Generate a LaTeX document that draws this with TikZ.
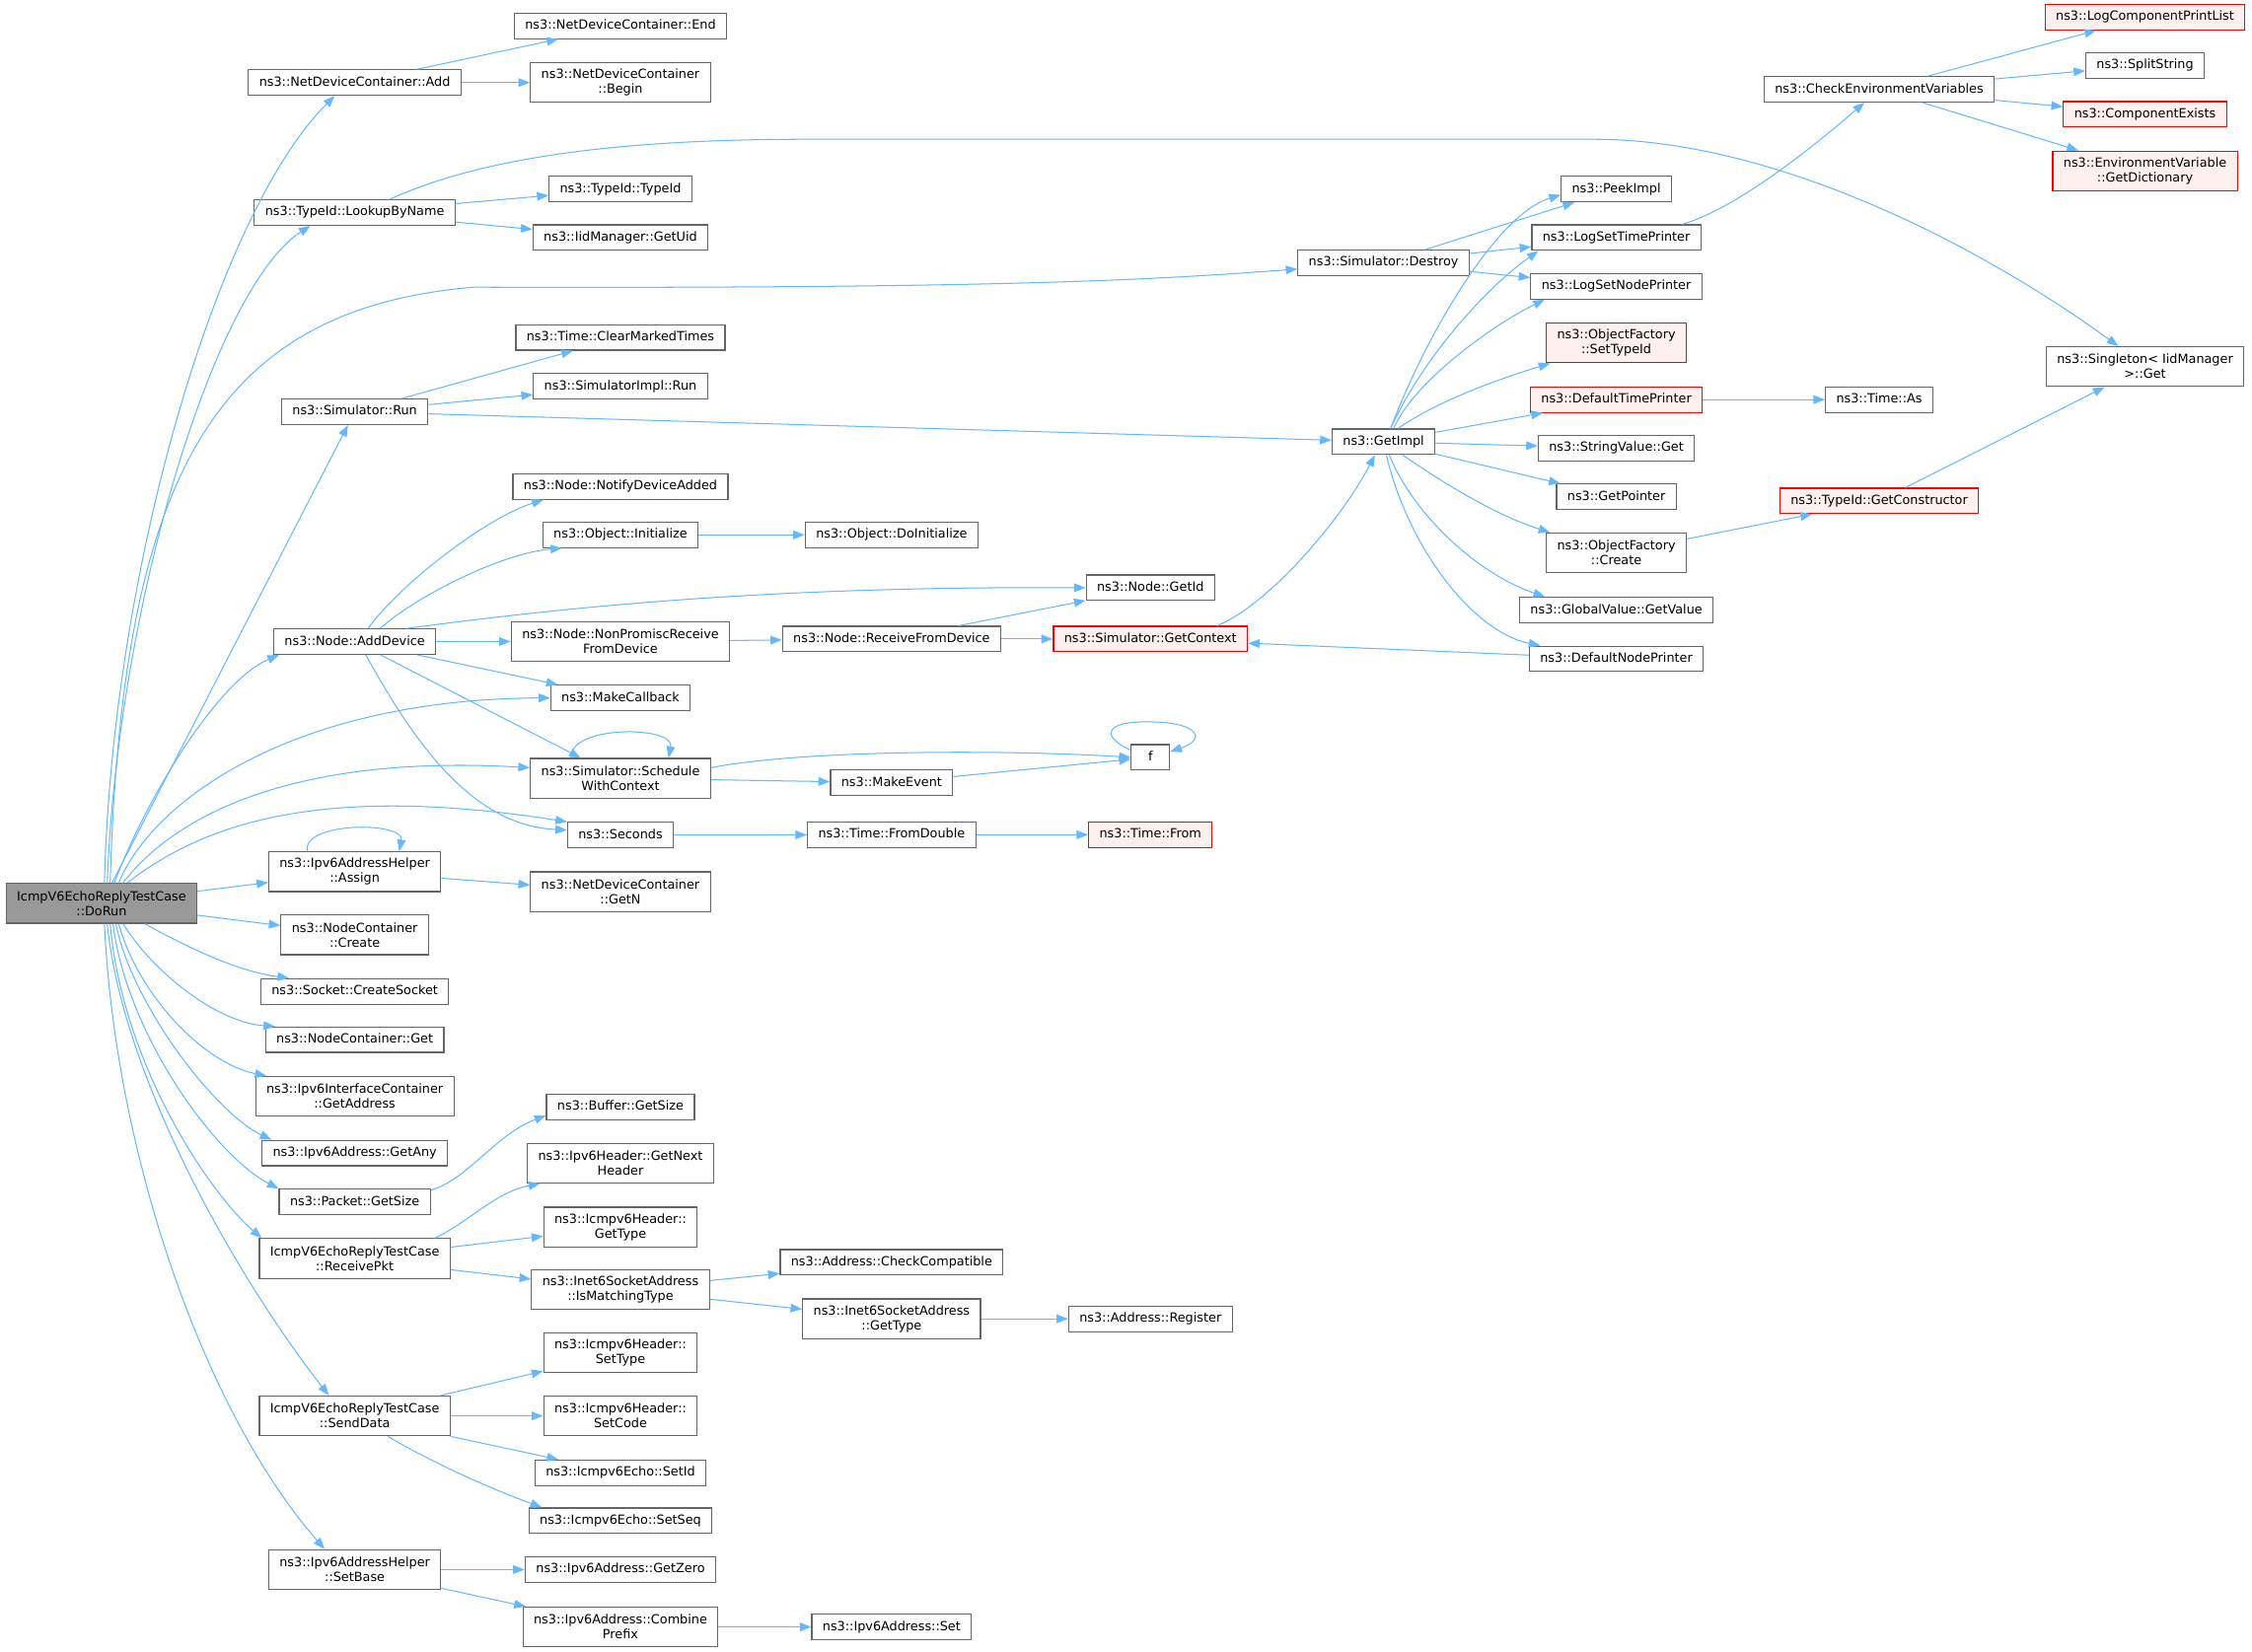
\documentclass[tikz,border=0pt]{standalone}
\usepackage{fontspec}
\setmainfont{DejaVu Sans}
\usetikzlibrary{arrows.meta}
\definecolor{eblue}{HTML}{63B8FF}
\definecolor{bgray}{HTML}{666666}
\definecolor{rfill}{HTML}{FFF0F0}
\definecolor{rootfill}{HTML}{999999}
\begin{document}
\begin{tikzpicture}[x=1pt,y=-1pt,
  fnbase/.style={draw=bgray, line width=0.8pt, fill=white, font=\fontsize{8.8}{10.3}\selectfont, inner xsep=7.5pt, inner ysep=0pt, align=center},
  fn/.style={fnbase, minimum height=17.7pt, text height=6.9pt, text depth=2.1pt},
  fn2/.style={fnbase, minimum height=27.7pt},
  rednode/.style={draw=red, fill=rfill},
  rootnode/.style={fill=rootfill},
  conn/.style={draw=eblue, line width=0.7pt, -{Triangle[length=8pt,width=6pt]}}]
\path[fill=white,use as bounding box] (0,0) rectangle (1568,1150);

% column 1
\node[fn2,rootnode] (root) at (70.7,629) {IcmpV6EchoReplyTestCase\\::DoRun};
% column 2
\node[fn] (add) at (247,57.5) {ns3::NetDeviceContainer::Add};
\node[fn] (lookup) at (247,148) {ns3::TypeId::LookupByName};
\node[fn] (run) at (247,286.7) {ns3::Simulator::Run};
\node[fn] (adddev) at (247,446.8) {ns3::Node::AddDevice};
\node[fn2] (assign) at (247,607) {ns3::Ipv6AddressHelper\\::Assign};
\node[fn2] (nccreate) at (247,651) {ns3::NodeContainer\\::Create};
\node[fn] (createsock) at (247,690.4) {ns3::Socket::CreateSocket};
\node[fn] (ncget) at (247,724) {ns3::NodeContainer::Get};
\node[fn2] (getaddr) at (247,763.5) {ns3::Ipv6InterfaceContainer\\::GetAddress};
\node[fn] (getany) at (247,803) {ns3::Ipv6Address::GetAny};
\node[fn] (pktsize) at (247,837) {ns3::Packet::GetSize};
\node[fn2] (rpkt) at (247,876.4) {IcmpV6EchoReplyTestCase\\::ReceivePkt};
\node[fn2] (senddata) at (247,986) {IcmpV6EchoReplyTestCase\\::SendData};
\node[fn2] (setbase) at (247,1093) {ns3::Ipv6AddressHelper\\::SetBase};
% column 3
\node[fn] (ndcend) at (432,18) {ns3::NetDeviceContainer::End};
\node[fn2] (ndcbegin) at (432,57.5) {ns3::NetDeviceContainer\\::Begin};
\node[fn] (typeid) at (432,131.7) {ns3::TypeId::TypeId};
\node[fn] (getuid) at (432,165.5) {ns3::IidManager::GetUid};
\node[fn] (cmt) at (432,235) {ns3::Time::ClearMarkedTimes};
\node[fn] (sirun) at (432,269) {ns3::SimulatorImpl::Run};
\node[fn] (nda) at (432,338.8) {ns3::Node::NotifyDeviceAdded};
\node[fn] (oinit) at (432,372.5) {ns3::Object::Initialize};
\node[fn2] (npr) at (432,446.7) {ns3::Node::NonPromiscReceive\\FromDevice};
\node[fn] (mkcb) at (432,486) {ns3::MakeCallback};
\node[fn2] (swc) at (432,542) {ns3::Simulator::Schedule\\WithContext};
\node[fn] (secs) at (432,581.5) {ns3::Seconds};
\node[fn2] (getn) at (432,621) {ns3::NetDeviceContainer\\::GetN};
\node[fn] (bufsize) at (432,770.8) {ns3::Buffer::GetSize};
\node[fn2] (nexthdr) at (432,810) {ns3::Ipv6Header::GetNext\\Header};
\node[fn2] (gettype) at (432,854.5) {ns3::Icmpv6Header::\\GetType};
\node[fn2] (imt) at (432,898) {ns3::Inet6SocketAddress\\::IsMatchingType};
\node[fn2] (settype) at (432,942) {ns3::Icmpv6Header::\\SetType};
\node[fn2] (setcode) at (432,986) {ns3::Icmpv6Header::\\SetCode};
\node[fn] (setid) at (432,1025.6) {ns3::Icmpv6Echo::SetId};
\node[fn] (setseq) at (432,1059) {ns3::Icmpv6Echo::SetSeq};
\node[fn] (getzero) at (432,1093) {ns3::Ipv6Address::GetZero};
\node[fn2] (combine) at (432,1133) {ns3::Ipv6Address::Combine\\Prefix};
% column 4
\node[fn] (doinit) at (620.8,372.5) {ns3::Object::DoInitialize};
\node[fn] (rfd) at (620.8,445) {ns3::Node::ReceiveFromDevice};
\node[fn] (mkev) at (620.8,545) {ns3::MakeEvent};
\node[fn] (fromdbl) at (620.8,581.3) {ns3::Time::FromDouble};
\node[fn] (checkcompat) at (620.8,879) {ns3::Address::CheckCompatible};
\node[fn2] (i6gettype) at (620.8,918.4) {ns3::Inet6SocketAddress\\::GetType};
\node[fn] (ipset) at (620.8,1133) {ns3::Ipv6Address::Set};
% column 5
\node[fn] (getid) at (801,409.3) {ns3::Node::GetId};
\node[fn,rednode] (getctx) at (801,445) {ns3::Simulator::GetContext};
\node[fn,minimum width=26.7pt] (ff) at (801,527.4) {f};
\node[fn,rednode] (tfrom) at (801,581.3) {ns3::Time::From};
\node[fn] (addrreg) at (801,918.4) {ns3::Address::Register};
\node[fn] (destroy) at (963.3,183) {ns3::Simulator::Destroy};
\node[fn] (getimpl) at (963.3,307.6) {ns3::GetImpl};
% column 6
\node[fn] (peek) at (1125.4,131.7) {ns3::PeekImpl};
\node[fn] (lstp) at (1125.4,165.5) {ns3::LogSetTimePrinter};
\node[fn] (lsnp) at (1125.4,199.4) {ns3::LogSetNodePrinter};
\node[fn2,rednode] (settid) at (1125.4,238.8) {ns3::ObjectFactory\\::SetTypeId};
\node[fn,rednode] (dtp) at (1125.4,278.3) {ns3::DefaultTimePrinter};
\node[fn] (svget) at (1125.4,312) {ns3::StringValue::Get};
\node[fn] (getptr) at (1125.4,346) {ns3::GetPointer};
\node[fn2] (ofcreate) at (1125.4,385) {ns3::ObjectFactory\\::Create};
\node[fn] (ggv) at (1125.4,424.8) {ns3::GlobalValue::GetValue};
\node[fn] (dnp) at (1125.4,458.8) {ns3::DefaultNodePrinter};
% column 7
\node[fn] (cev) at (1308.4,62.2) {ns3::CheckEnvironmentVariables};
\node[fn] (timeas) at (1308.4,278.3) {ns3::Time::As};
\node[fn,rednode] (getctor) at (1308.4,348.8) {ns3::TypeId::GetConstructor};
% column 8
\node[fn,rednode] (lcpl) at (1493.5,12) {ns3::LogComponentPrintList};
\node[fn] (splitstr) at (1493.5,45.6) {ns3::SplitString};
\node[fn,rednode] (compex) at (1493.5,79.6) {ns3::ComponentExists};
\node[fn2,rednode] (envdict) at (1493.5,119) {ns3::EnvironmentVariable\\::GetDictionary};
\node[fn2] (singleton) at (1493.5,255.3) {ns3::Singleton< IidManager\\>::Get};

% edges from root
\draw[conn] ([xshift=2pt]root.north) .. controls (78,400) and (150,150) .. ([xshift=-14pt]add.south);
\draw[conn] ([xshift=4pt]root.north) .. controls (82,420) and (150,200) .. ([xshift=-31pt]lookup.south);
\draw[conn] ([xshift=6pt]root.north) .. controls (85,330) and (150,215) .. (330,200) .. controls (700,201) and (800,195) .. (destroy);
\draw[conn] (root) -- (run);
\draw[conn] ([xshift=9pt]root.north) .. controls (100,560) and (150,475) .. ([xshift=4pt]adddev.south west);
\draw[conn] ([xshift=12pt]root.north) .. controls (105,560) and (200,487) .. (mkcb.west);
\draw[conn] ([xshift=15pt]root.north) .. controls (120,570) and (200,525) .. ([yshift=7.4pt]swc.west);
\draw[conn] ([xshift=18pt]root.north) .. controls (140,575) and (220,545) .. (secs.north west);
\draw[conn] (root) -- (assign);
\draw[conn] (root) -- (nccreate);
\draw[conn] ([xshift=30pt]root.south) .. controls (140,665) and (170,677) .. ([xshift=20pt]createsock.north west);
\draw[conn] ([xshift=15pt]root.south) .. controls (105,675) and (150,712) .. ([xshift=7pt]ncget.north west);
\draw[conn] ([xshift=12pt]root.south) .. controls (95,690) and (140,740) .. ([xshift=8pt]getaddr.north west);
\draw[conn] ([xshift=10pt]root.south) .. controls (92,700) and (150,775) .. ([xshift=7pt]getany.north west);
\draw[conn] ([xshift=8pt]root.south) .. controls (88,720) and (150,805) .. (pktsize.north west);
\draw[conn] ([xshift=6pt]root.south) .. controls (85,740) and (145,830) .. ([xshift=2pt]rpkt.north west);
\draw[conn] ([xshift=4pt]root.south) .. controls (85,750) and (165,890) .. ([xshift=-18pt]senddata.north);
\draw[conn] ([xshift=2pt]root.south) .. controls (80,800) and (140,980) .. ([xshift=-21pt]setbase.north);

% add, lookup, run
\draw[conn] (add) -- (ndcend);
\draw[conn] (add) -- (ndcbegin);
\draw[conn] (lookup) -- (typeid);
\draw[conn] (lookup) -- (getuid);
\draw[conn] ([xshift=24.5pt]lookup.north) .. controls (330,112) and (420,97) .. (560,97) -- (1110,97) .. controls (1230,97) and (1370,165) .. ([xshift=-18.6pt]singleton.north);
\draw[conn] (run) -- (cmt);
\draw[conn] (run) -- (sirun);
\draw[conn] (run) -- (getimpl);

% AddDevice
\draw[conn] ([xshift=9.3pt]adddev.north) .. controls (280,405) and (340,360) .. ([xshift=21.6pt]nda.south west);
\draw[conn] ([xshift=17.8pt]adddev.north) .. controls (290,415) and (350,385) .. ([xshift=13.8pt]oinit.south west);
\draw[conn] ([xshift=36.4pt]adddev.north) .. controls (380,425) and (520,408) .. (getid.west);
\draw[conn] (adddev) -- (npr);
\draw[conn] (adddev) -- (mkcb);
\draw[conn] (adddev) -- (swc);
\draw[conn] ([xshift=7.7pt]adddev.south) .. controls (290,520) and (330,575) .. ([yshift=3.5pt]secs.west);

% ScheduleWithContext, f
\draw[conn] ([xshift=-34pt]swc.north) .. controls (395,505) and (470,505) .. ([xshift=33.5pt]swc.north);
\draw[conn] ([yshift=7.4pt]swc.east) .. controls (560,522) and (700,522) .. (ff.west);
\draw[conn] (swc) -- (mkev);
\draw[conn] (mkev) -- (ff);
\draw[conn] ([yshift=5pt]ff.west) .. controls (765,512) and (770,502) .. (801,502.7) .. controls (835,503) and (840,515) .. ([yshift=4pt]ff.east);

\draw[conn] (secs) -- (fromdbl);
\draw[conn] (fromdbl) -- (tfrom);
\draw[conn] (oinit) -- (doinit);
\draw[conn] (npr) -- (rfd);
\draw[conn] (rfd) -- (getid);
\draw[conn] (rfd) -- (getctx);
\draw[conn] ([xshift=46.5pt]getctx.north) .. controls (885,420) and (935,360) .. ([xshift=-6pt]getimpl.south);
\draw[conn] (dnp) -- (getctx);

% Assign
\draw[conn] ([xshift=-33pt]assign.north) .. controls (210,572) and (282,572) .. ([xshift=31pt]assign.north);
\draw[conn] (assign) -- (getn);

% Packet, ReceivePkt
\draw[conn] ([yshift=-1pt]pktsize.north east) .. controls (325,822) and (345,790) .. ([yshift=-6pt]bufsize.west);
\draw[conn] ([xshift=-11pt]rpkt.north east) .. controls (325,852) and (345,830) .. ([xshift=9.3pt]nexthdr.south west);
\draw[conn] (rpkt) -- (gettype);
\draw[conn] (rpkt) -- (imt);
\draw[conn] (imt) -- (checkcompat);
\draw[conn] (imt) -- (i6gettype);
\draw[conn] (i6gettype) -- (addrreg);

% SendData
\draw[conn] (senddata) -- (settype);
\draw[conn] (senddata) -- (setcode);
\draw[conn] (senddata) -- (setid);
\draw[conn] ([xshift=23pt]senddata.south) .. controls (300,1018) and (340,1036) .. ([xshift=9.4pt]setseq.north west);

% SetBase
\draw[conn] (setbase) -- (getzero);
\draw[conn] (setbase) -- (combine);
\draw[conn] (combine) -- (ipset);

% Destroy
\draw[conn] (destroy) -- (peek);
\draw[conn] (destroy) -- (lstp);
\draw[conn] (destroy) -- (lsnp);
\draw[conn] ([xshift=45.7pt]lstp.north) .. controls (1210,145) and (1265,100) .. ([xshift=-10.3pt]cev.south);
\draw[conn] (cev) -- (lcpl);
\draw[conn] (cev) -- (splitstr);
\draw[conn] (cev) -- (compex);
\draw[conn] (cev) -- (envdict);

% GetImpl
\draw[conn] ([xshift=5pt]getimpl.north) .. controls (990,240) and (1040,150) .. ([yshift=-4pt]peek.west);
\draw[conn] ([xshift=5pt]getimpl.north) .. controls (990,250) and (1035,200) .. ([xshift=5pt]lstp.south west);
\draw[conn] ([xshift=7pt]getimpl.north) .. controls (985,265) and (1040,226) .. ([xshift=10pt]lsnp.south west);
\draw[conn] ([xshift=10pt]getimpl.north) .. controls (1000,280) and (1040,265) .. ([xshift=3pt]settid.south west);
\draw[conn] (getimpl) -- (dtp);
\draw[conn] (getimpl) -- (svget);
\draw[conn] (getimpl) -- (getptr);
\draw[conn] (getimpl) .. controls (1010,340) and (1045,360) .. ([xshift=3pt]ofcreate.north west);
\draw[conn] ([xshift=4pt]getimpl.south) .. controls (985,360) and (1030,400) .. ([xshift=18pt]ggv.north west);
\draw[conn] ([xshift=2pt]getimpl.south) .. controls (980,380) and (1025,440) .. ([xshift=8pt]dnp.north west);
\draw[conn] (dtp) -- (timeas);
\draw[conn] (ofcreate) -- (getctor);
\draw[conn] (getctor) -- (singleton);
\end{tikzpicture}
\end{document}
